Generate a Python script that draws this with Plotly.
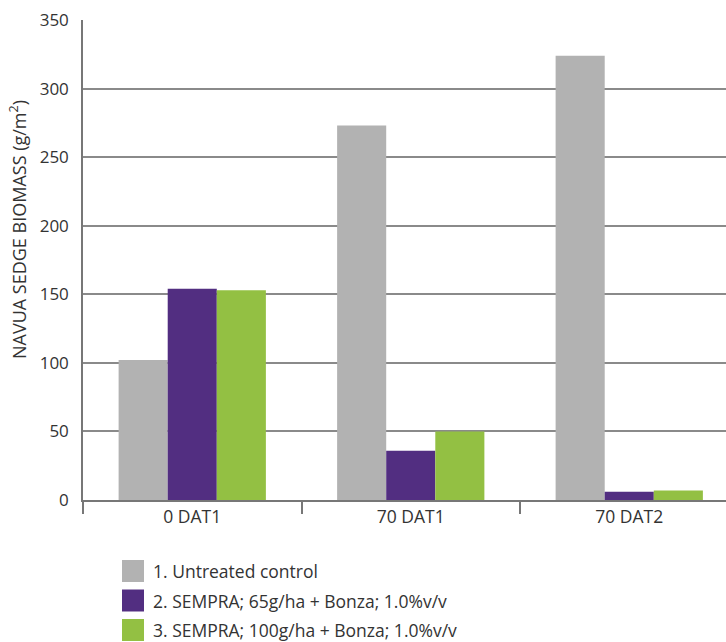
import plotly.graph_objects as go

categories = ["0 DAT1", "70 DAT1", "70 DAT2"]
series_names = [
    "1. Untreated control",
    "2. SEMPRA; 65g/ha + Bonza; 1.0%v/v",
    "3. SEMPRA; 100g/ha + Bonza; 1.0%v/v",
]
untreated = [102, 273, 324]
sempra_65 = [154, 36, 6]
sempra_100 = [153, 50, 7]
colors = ["#b2b2b2", "#522e81", "#93c043"]
y_ticks = [0, 50, 100, 150, 200, 250, 300, 350]

W, H = 726, 642
L, R, T, B = 83, 0, 20, 142
pw, ph = W - L - R, H - T - B

def px_x(px):
    return (px - L) / pw

def px_y(py):
    return (H - B - py) / ph

FONT = "'Open Sans', 'Noto Sans', sans-serif"
TXT = "#333333"

fig = go.Figure()
for name, vals, col in zip(series_names, [untreated, sempra_65, sempra_100], colors):
    fig.add_trace(go.Bar(x=categories, y=vals, name=name, marker=dict(color=col, line=dict(width=0)),
                         showlegend=False))

# legend swatches + labels
row_centers = [571, 600.5, 630]
for name, col, cy in zip(series_names, colors, row_centers):
    fig.add_shape(type="rect", xref="paper", yref="paper",
                  x0=px_x(122), x1=px_x(144), y0=px_y(cy + 11), y1=px_y(cy - 11),
                  fillcolor=col, line=dict(width=0))
    fig.add_annotation(xref="paper", yref="paper", x=px_x(151), y=px_y(cy),
                       text=name, showarrow=False, xanchor="left", yanchor="middle",
                       font=dict(family=FONT, size=17.5, color=TXT))

# y axis title
fig.add_annotation(xref="paper", yref="paper", x=px_x(18), y=px_y(230),
                   text="NAVUA SEDGE BIOMASS (g/m<sup>2</sup>)", textangle=-90,
                   showarrow=False, xanchor="center", yanchor="middle",
                   font=dict(family=FONT, size=18, color=TXT))

fig.update_layout(
    width=W, height=H,
    margin=dict(l=L, r=R, t=T, b=B, pad=0),
    paper_bgcolor="white", plot_bgcolor="white",
    barmode="group", bargap=0.326, bargroupgap=0,
    font=dict(family=FONT, color=TXT),
    showlegend=False,
)
fig.update_xaxes(
    type="category", range=[-0.5, -0.5 + pw / 218.5],
    showline=True, linecolor="#777777", linewidth=1.5,
    ticks="outside", tickson="boundaries", ticklen=12, tickcolor="#777777", tickwidth=1.5,
    tickfont=dict(family=FONT, size=17.5, color=TXT),
    showgrid=False, zeroline=False,
)
fig.update_yaxes(
    range=[0, 350], tickvals=y_ticks,
    showline=True, linecolor="#777777", linewidth=1.5,
    showgrid=True, gridcolor="#8a8a8a", gridwidth=1.5,
    ticks="", ticklabelstandoff=9,
    tickfont=dict(family=FONT, size=17, color=TXT),
    zeroline=False,
)

fig.write_html("out.html")
